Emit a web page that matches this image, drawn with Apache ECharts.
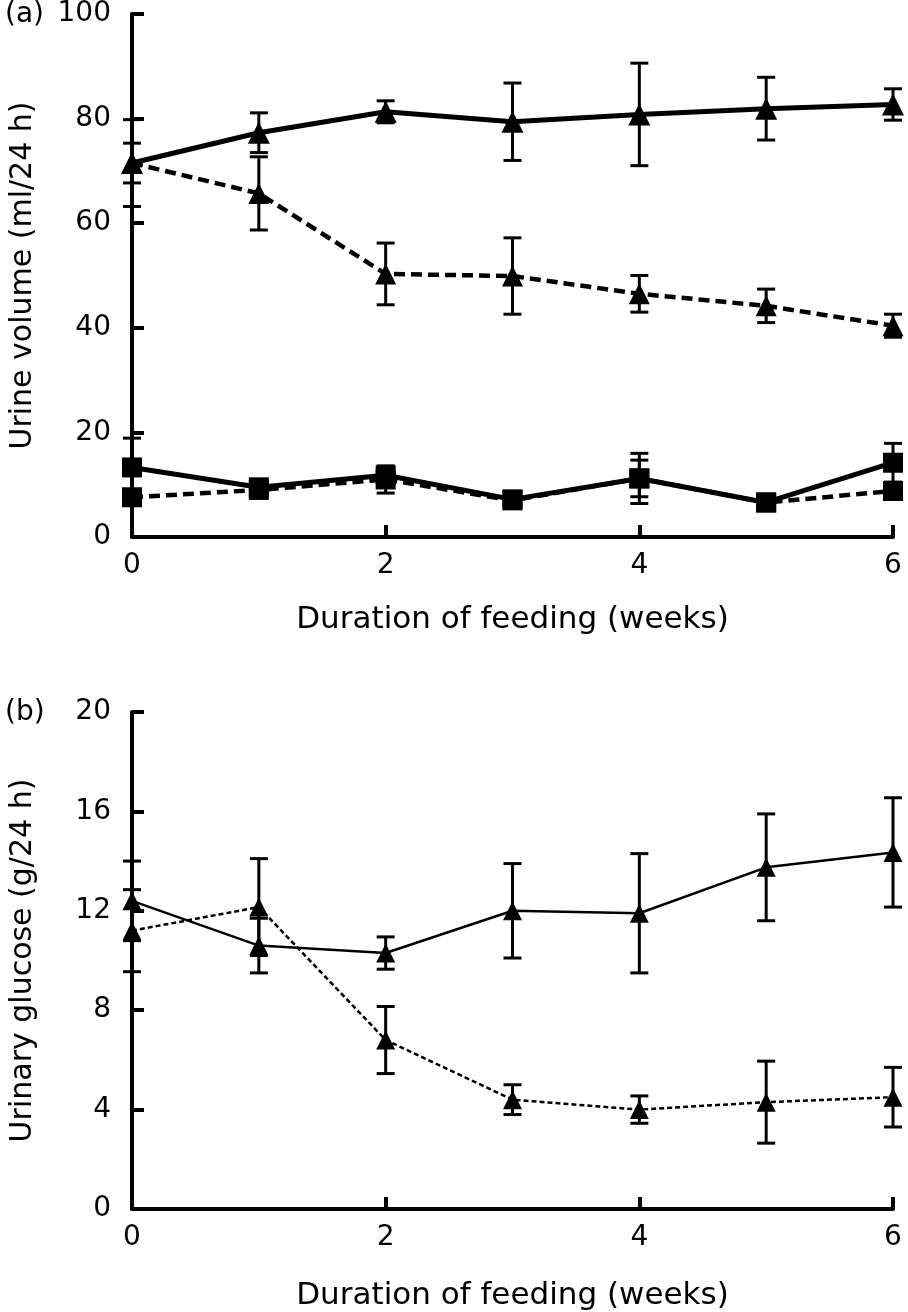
<!DOCTYPE html>
<html>
<head>
<meta charset="utf-8">
<script src="https://cdn.jsdelivr.net/npm/echarts@6/dist/echarts.min.js"></script>
<style>
html,body{margin:0;padding:0;background:#fff;}
#chart{width:908px;height:1312px;}
</style>
</head>
<body>
<div id="chart"></div>
<script>
// ---------- data ----------
const weeks = [0, 1, 2, 3, 4, 5, 6];
const xTicks = [0, 2, 4, 6];

// Panel (a): urine volume (ml/24 h)
const volSolidHigh     = [71.5, 77.3, 81.3, 79.4, 80.8, 81.9, 82.7];
const volSolidHighErr  = [3.8, 3.8, 2.1, 7.4, 9.8, 6.0, 3.0];
const volDashedHigh    = [71.5, 65.7, 50.3, 49.9, 46.5, 44.2, 40.4];
const volDashedHighErr = [8.3, 7.0, 5.9, 7.3, 3.5, 3.2, 2.2];
const volSolidLow      = [13.3, 9.5, 11.8, 7.2, 11.2, 6.6, 14.2];
const volSolidLowErr   = [5.6, 1.5, 1.5, 1.0, 4.8, 1.0, 3.7];
const volDashedLow     = [7.6, 9.0, 11.0, 7.0, 11.2, 6.6, 8.8];
const volDashedLowErr  = [1.0, 1.0, 2.6, 1.0, 3.5, 1.0, 1.5];

// Panel (b): urinary glucose (g/24 h)
const glcSolid     = [12.4, 10.6, 10.3, 12.0, 11.9, 13.75, 14.35];
const glcSolidErr  = [1.6, 1.1, 0.65, 1.9, 2.4, 2.15, 2.2];
const glcDashed    = [11.2, 12.15, 6.8, 4.4, 4.0, 4.3, 4.5];
const glcDashedErr = [1.65, 1.95, 1.35, 0.6, 0.55, 1.65, 1.2];

const xName = 'Duration of feeding (weeks)';
const yNameA = 'Urine volume (ml/24 h)';
const yNameB = 'Urinary glucose (g/24 h)';

// ---------- helpers ----------
const FONT = 'DejaVu Sans';
const pts = (ys) => weeks.map((w, i) => [w, ys[i]]);
const errs = (ys, es) => weeks.map((w, i) => [w, ys[i] - es[i], ys[i] + es[i]]);

function errRender(capHalf, lw) {
  return function (params, api) {
    const x = api.value(0);
    const lo = api.coord([x, api.value(1)]);
    const hi = api.coord([x, api.value(2)]);
    const st = { stroke: '#000', lineWidth: lw };
    return {
      type: 'group',
      children: [
        { type: 'line', shape: { x1: lo[0], y1: lo[1], x2: hi[0], y2: hi[1] }, style: st },
        { type: 'line', shape: { x1: hi[0] - capHalf, y1: hi[1], x2: hi[0] + capHalf, y2: hi[1] }, style: st },
        { type: 'line', shape: { x1: lo[0] - capHalf, y1: lo[1], x2: lo[0] + capHalf, y2: lo[1] }, style: st }
      ]
    };
  };
}

function errSeries(idx, data, capHalf, lw) {
  return {
    type: 'custom', xAxisIndex: idx, yAxisIndex: idx,
    renderItem: errRender(capHalf, lw), data: data, clip: false, z: 2, silent: true
  };
}

function lineSeries(idx, data, symbol, size, lw, dash) {
  return {
    type: 'line', xAxisIndex: idx, yAxisIndex: idx, data: data,
    symbol: symbol, symbolSize: size, showSymbol: true, clip: false, z: 3,
    itemStyle: { color: '#000', borderWidth: 0 },
    lineStyle: { color: '#000', width: lw, type: dash },
    animation: false, silent: true
  };
}

function xAxisCfg(idx, gap) {
  return {
    type: 'value', gridIndex: idx, min: 0, max: 6, interval: 2,
    name: xName, nameLocation: 'middle', nameGap: gap,
    nameTextStyle: { fontFamily: FONT, fontSize: 31, color: '#000' },
    axisLine: { show: true, lineStyle: { color: '#000', width: 4 } },
    axisTick: { show: true, inside: true, length: 12, lineStyle: { color: '#000', width: 4 } },
    axisLabel: { fontFamily: FONT, fontSize: 28, color: '#000', margin: 15,
      formatter: (v) => xTicks.indexOf(v) >= 0 ? String(v) : '' },
    splitLine: { show: false }
  };
}

function yAxisCfg(idx, max, interval, name, gap) {
  return {
    type: 'value', gridIndex: idx, min: 0, max: max, interval: interval,
    name: name, nameLocation: 'middle', nameRotate: 90, nameGap: gap,
    nameTextStyle: { fontFamily: FONT, fontSize: 30, color: '#000' },
    axisLine: { show: true, lineStyle: { color: '#000', width: 4 } },
    axisTick: { show: true, inside: true, length: 12, lineStyle: { color: '#000', width: 4 } },
    axisLabel: { fontFamily: FONT, fontSize: 28, color: '#000', margin: 21 },
    splitLine: { show: false }
  };
}

const chart = echarts.init(document.getElementById('chart'), null, { renderer: 'canvas' });
chart.setOption({
  backgroundColor: '#fff',
  animation: false,
  title: [
    { text: '(a)', left: 0, top: -4, textStyle: { fontFamily: FONT, fontSize: 28, fontWeight: 'normal', color: '#000' } },
    { text: '(b)', left: 0, top: 694, textStyle: { fontFamily: FONT, fontSize: 28, fontWeight: 'normal', color: '#000' } }
  ],
  grid: [
    { left: 129, right: 15, top: 12, height: 525 },
    { left: 129, right: 15, top: 712, height: 500 }
  ],
  xAxis: [xAxisCfg(0, 67), xAxisCfg(1, 71)],
  yAxis: [yAxisCfg(0, 100, 20, yNameA, 94), yAxisCfg(1, 20, 4, yNameB, 94)],
  series: [
    // panel (a) error bars
    errSeries(0, errs(volSolidHigh, volSolidHighErr), 9, 3),
    errSeries(0, errs(volDashedHigh, volDashedHighErr), 9, 3),
    errSeries(0, errs(volSolidLow, volSolidLowErr), 9, 3),
    errSeries(0, errs(volDashedLow, volDashedLowErr), 9, 3),
    // panel (a) lines
    lineSeries(0, pts(volSolidHigh), 'triangle', 22, 5, 'solid'),
    lineSeries(0, pts(volDashedHigh), 'triangle', 21, 4.5, [11, 6]),
    lineSeries(0, pts(volSolidLow), 'rect', 20, 5, 'solid'),
    lineSeries(0, pts(volDashedLow), 'rect', 20, 4.5, [11, 6]),
    // panel (b) error bars
    errSeries(1, errs(glcSolid, glcSolidErr), 9, 3),
    errSeries(1, errs(glcDashed, glcDashedErr), 9, 3),
    // panel (b) lines
    lineSeries(1, pts(glcSolid), 'triangle', 19, 2.5, 'solid'),
    lineSeries(1, pts(glcDashed), 'triangle', 19, 2.5, [5, 3])
  ]
});
</script>
</body>
</html>
